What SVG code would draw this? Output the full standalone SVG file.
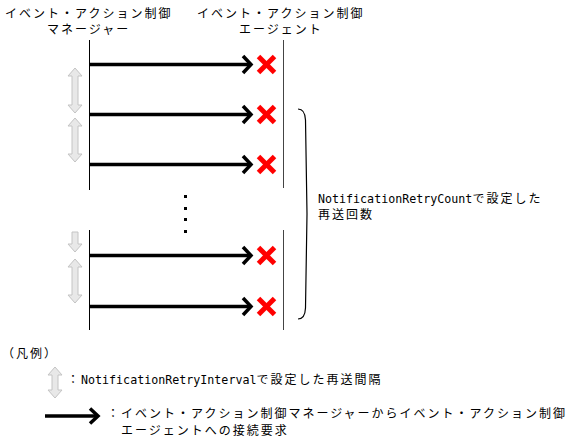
<svg xmlns="http://www.w3.org/2000/svg" width="577" height="444" viewBox="0 0 577 444">
<style>
  text { font-family: "Noto Sans CJK JP", "Liberation Sans", sans-serif; font-size: 12px; letter-spacing: 2px; fill: #000; }
  .a { font-family: "DejaVu Sans Mono", "Liberation Mono", monospace; font-size: 11.67px; letter-spacing: 0px; }
  .life { stroke: #000; stroke-width: 1; fill: none; }
  .life2 { stroke: #444; stroke-width: 1; fill: none; }
  .req { stroke: #000; stroke-width: 3.5; fill: none; stroke-linejoin: miter; }
  .x { stroke: #ff0000; stroke-width: 5; fill: none; }
  .gap { fill: #e8e8e8; stroke: #c4c4c4; stroke-width: 1; }
  .dot { fill: #000; }
</style>
<defs>
  <g id="req">
    <line class="req" x1="0" y1="0" x2="160" y2="0"/>
    <polyline class="req" points="153,-8.5 161,0 153,8.5"/>
  </g>
  <g id="fail">
    <line class="x" x1="-8" y1="-8" x2="8" y2="8"/>
    <line class="x" x1="8" y1="-8" x2="-8" y2="8"/>
  </g>
</defs>

<g id="manager">
  <text x="5" y="18">イベント・アクション制御</text>
  <text x="47" y="34">マネージャー</text>
  <line class="life" x1="89.5" y1="40" x2="89.5" y2="190"/>
  <line class="life" x1="89.5" y1="230" x2="89.5" y2="330"/>
</g>

<g id="agent">
  <text x="197" y="18">イベント・アクション制御</text>
  <text x="239" y="34">エージェント</text>
  <line class="life2" x1="283.5" y1="40" x2="283.5" y2="188"/>
  <line class="life2" x1="283.5" y1="230" x2="283.5" y2="330"/>
</g>

<g id="connectors">
  <use href="#req" x="90" y="64.5"/>
  <use href="#req" x="90" y="114.5"/>
  <use href="#req" x="90" y="164.5"/>
  <use href="#req" x="90" y="255.5"/>
  <use href="#req" x="90" y="306.5"/>
</g>

<g id="failures">
  <use href="#fail" x="266.5" y="64.5"/>
  <use href="#fail" x="266.5" y="114.5"/>
  <use href="#fail" x="266.5" y="164.5"/>
  <use href="#fail" x="266.5" y="255.5"/>
  <use href="#fail" x="266.5" y="306.5"/>
</g>

<g id="intervals">
  <path class="gap" d="M75,68 L82,76 L78,76 L78,105 L82,105 L75,113 L68,105 L72,105 L72,76 L68,76 Z"/>
  <path class="gap" d="M75,118 L82,126 L78,126 L78,154 L82,154 L75,162 L68,154 L72,154 L72,126 L68,126 Z"/>
  <path class="gap" d="M72,232 L78,232 L78,244 L82,244 L75,252 L68,244 L72,244 Z"/>
  <path class="gap" d="M75,259 L82,267 L78,267 L78,295 L82,295 L75,303 L68,295 L72,295 L72,267 L68,267 Z"/>
</g>

<g id="ellipsis">
  <rect class="dot" x="184" y="195" width="3" height="3"/>
  <rect class="dot" x="184" y="207" width="3" height="3"/>
  <rect class="dot" x="184" y="218" width="3" height="3"/>
  <rect class="dot" x="184" y="230" width="3" height="3"/>
</g>

<g id="retry-count">
  <path d="M298,109 Q305,109 305.5,120 L307,214 L305.5,308 Q305,319 298,319" fill="none" stroke="#000" stroke-width="1.2"/>
  <text x="318" y="203"><tspan class="a">NotificationRetryCount</tspan>で設定した</text>
  <text x="318" y="219">再送回数</text>
</g>

<g id="legend">
  <text x="2" y="358">（凡例）</text>
  <path class="gap" d="M55,367 L62,375 L58,375 L58,390 L62,390 L55,398 L48,390 L52,390 L52,375 L48,375 Z"/>
  <text x="67" y="384">：<tspan class="a">NotificationRetryInterval</tspan>で設定した再送間隔</text>
  <line class="req" x1="45" y1="416" x2="97" y2="416"/>
  <polyline class="req" points="90,408.5 98,416 90,423.5"/>
  <text x="107" y="418">：イベント・アクション制御マネージャーからイベント・アクション制御</text>
  <text x="121" y="435">エージェントへの接続要求</text>
</g>
</svg>
